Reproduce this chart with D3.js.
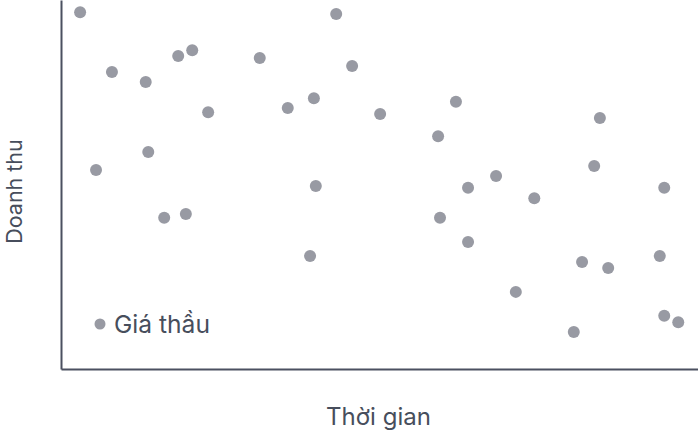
<!DOCTYPE html>
<html lang="vi">
<head>
    <meta charset="UTF-8">
    <title>Doanh thu theo thời gian</title>
    <style>
        html, body { margin: 0; padding: 0; background: #fff; }
        body { font-family: Inter, "Noto Sans", sans-serif; }
        svg text { fill: #474e5c; }
    </style>
</head>
<body>
    <div id="chart"></div>

    <script src="https://d3js.org/d3.v7.min.js"></script>
    <script>
        // Data (x: time, y: revenue, both 0-100)
        const seriesName = 'Giá thầu';
        const xValues = [3.0, 8.0, 13.3, 18.4, 20.6, 23.1, 5.5, 13.7, 16.2, 19.6,
                         31.2, 35.6, 39.7, 43.2, 45.7, 40.0, 39.1, 50.1, 59.2, 62.0,
                         63.9, 59.5, 68.3, 74.3, 63.9, 71.4, 80.5, 81.8, 85.9, 83.7,
                         84.6, 94.7, 94.0, 94.7, 96.9];
        const yValues = [96.7, 80.5, 77.8, 84.8, 86.4, 69.6, 53.9, 58.8, 41.0, 42.0,
                         84.3, 70.7, 73.4, 96.2, 82.1, 49.6, 30.6, 69.1, 63.1, 72.4,
                         49.1, 41.0, 52.3, 46.3, 34.4, 20.9, 10.0, 29.0, 27.4, 55.0,
                         68.0, 49.1, 30.6, 14.4, 12.7];
        const xLabel = 'Thời gian';
        const yLabel = 'Doanh thu';

        const data = xValues.map((x, i) => ({x: x, y: yValues[i]}));

        const W = 698, H = 432;
        const margin = {top: 0, right: 0, bottom: 63, left: 61};
        const width = W - margin.left - margin.right;
        const height = H - margin.top - margin.bottom;

        const svg = d3.select('#chart')
                      .append('svg')
                      .attr('width', W)
                      .attr('height', H);

        const g = svg.append('g')
                     .attr('transform', 'translate(' + margin.left + ',' + margin.top + ')');

        const xScale = d3.scaleLinear().domain([0, 100]).range([0, width]);
        const yScale = d3.scaleLinear().domain([0, 100]).range([height, 0]);

        // Axes without ticks
        g.append('g')
         .attr('transform', 'translate(0,' + height + ')')
         .call(d3.axisBottom(xScale).ticks(0).tickSizeOuter(0))
         .call(a => a.select('.domain').attr('stroke', '#4b5060').attr('stroke-width', 2));

        g.append('g')
         .call(d3.axisLeft(yScale).ticks(0).tickSizeOuter(0))
         .call(a => a.select('.domain').attr('stroke', '#4b5060').attr('stroke-width', 2));

        // Points
        g.selectAll('.dot')
         .data(data)
         .enter()
         .append('circle')
         .attr('class', 'dot')
         .attr('cx', d => xScale(d.x))
         .attr('cy', d => yScale(d.y))
         .attr('r', 6)
         .style('fill', '#989aa3');

        // Legend
        const legend = g.append('g').attr('transform', 'translate(39,324)');
        legend.append('circle').attr('r', 5.5).style('fill', '#989aa3');
        legend.append('text')
              .attr('x', 14)
              .attr('dy', '0.36em')
              .style('font-size', '24.6px')
              .text(seriesName);

        // Axis labels
        svg.append('text')
           .attr('x', margin.left + width / 2 - 1)
           .attr('y', 425)
           .style('text-anchor', 'middle')
           .style('font-size', '24px')
           .text(xLabel);

        svg.append('text')
           .attr('transform', 'translate(22,' + (margin.top + height / 2 + 7) + ') rotate(-90)')
           .style('text-anchor', 'middle')
           .style('font-size', '21.5px')
           .text(yLabel);
    </script>
</body>
</html>
